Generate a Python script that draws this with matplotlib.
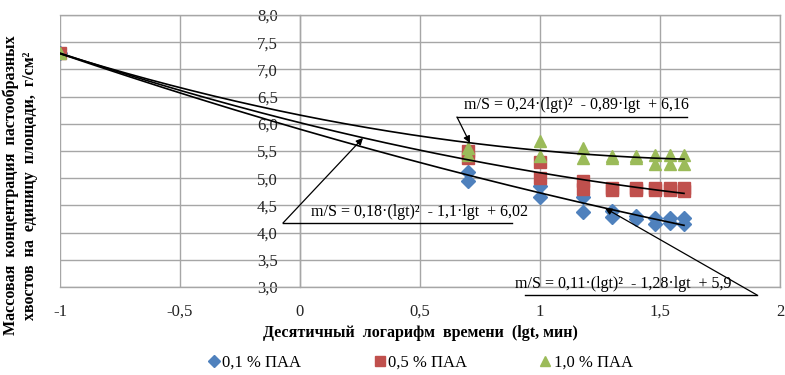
import matplotlib
matplotlib.use("Agg")
import matplotlib.pyplot as plt
import numpy as np

plt.rcParams['font.family'] = ['Liberation Serif', 'DejaVu Serif']

# ---- data ----
lgt = [-1, 0.7, 0.7, 1, 1, 1.18, 1.18, 1.3, 1.3, 1.4, 1.4, 1.48, 1.48, 1.54, 1.54, 1.6, 1.6]
paa_01 = [7.3, 5.12, 4.95, 4.85, 4.65, 4.65, 4.38, 4.4, 4.28, 4.3, 4.25, 4.27, 4.16, 4.26, 4.17, 4.27, 4.15]
paa_05 = [7.3, 5.5, 5.38, 5.3, 5.0, 4.95, 4.8, 4.82, 4.78, 4.82, 4.78, 4.82, 4.78, 4.82, 4.78, 4.82, 4.77]
paa_10 = [7.3, 5.55, 5.42, 5.68, 5.4, 5.55, 5.38, 5.4, 5.37, 5.4, 5.37, 5.42, 5.27, 5.42, 5.27, 5.42, 5.27]

# trendline coefficients printed on the chart (a*x^2 + b*x + c)
coef_01 = [0.11, -1.28, 5.9]
coef_05 = [0.18, -1.1, 6.02]
coef_10 = [0.24, -0.89, 6.16]

series_labels = ['0,1 % ПАА', '0,5 % ПАА', '1,0 % ПАА']
eq_labels = ['m/S = 0,11·(lgt)²  - 1,28·lgt  + 5,9',
             'm/S = 0,18·(lgt)²  - 1,1·lgt  + 6,02',
             'm/S = 0,24·(lgt)²  - 0,89·lgt  + 6,16']
x_ticks = [-1, -0.5, 0, 0.5, 1, 1.5, 2]
x_tick_labels = ['-1', '-0,5', '0', '0,5', '1', '1,5', '2']
y_ticks = [3.0, 3.5, 4.0, 4.5, 5.0, 5.5, 6.0, 6.5, 7.0, 7.5, 8.0]
y_tick_labels = ['3,0', '3,5', '4,0', '4,5', '5,0', '5,5', '6,0', '6,5', '7,0', '7,5', '8,0']

blue = '#4f81bd'
red = '#c0504d'
green = '#9bbb59'
grid_c = '#a6a6a6'

fig = plt.figure(figsize=(7.85, 3.75), dpi=100)
ax = fig.add_axes([60/785, 1-287/375, 720/785, 272/375])
ax.set_xlim(-1, 2)
ax.set_ylim(3, 8)

ax.set_xticks(x_ticks)
ax.set_xticklabels(x_tick_labels)
ax.set_yticks(y_ticks)
ax.set_yticklabels(y_tick_labels)
ax.grid(True, color=grid_c, linewidth=1.0)
ax.set_axisbelow(True)
for s in ['top', 'right', 'bottom']:
    ax.spines[s].set_color(grid_c)
    ax.spines[s].set_linewidth(1.0)
ax.spines['left'].set_position(('data', 0))
ax.spines['left'].set_color(grid_c)
ax.spines['left'].set_linewidth(1.0)
ax.tick_params(axis='both', length=0, labelsize=12, colors='#222222')
ax.tick_params(axis='y', pad=16)
ax.tick_params(axis='x', pad=12)

ax.plot(lgt, paa_01, linestyle='none', marker='D', markersize=7, color=blue, label=series_labels[0], zorder=3)
ax.plot(lgt, paa_05, linestyle='none', marker='s', markersize=8, color=red, label=series_labels[1], zorder=3)
ax.plot(lgt, paa_10, linestyle='none', marker='^', markersize=9, color=green, label=series_labels[2], zorder=3)

xx = np.linspace(-1, 1.6, 200)
for c in (coef_01, coef_05, coef_10):
    ax.plot(xx, np.polyval(c, xx), color='black', linewidth=1.2, zorder=4)

# annotations: underline + arrow + equation text
def annot(text, tx, ty, ux0, ux1, uy, start, end):
    ax.text(tx, ty, text, fontsize=11.5, va='center', ha='left', zorder=5, clip_on=False)
    ax.plot([ux0, ux1], [uy, uy], color='black', linewidth=1.0, clip_on=False, zorder=5)
    ax.annotate('', xy=end, xytext=start,
                arrowprops=dict(arrowstyle='-|>', color='black', lw=0.9,
                                mutation_scale=10, shrinkA=0, shrinkB=0),
                annotation_clip=False, zorder=5)

annot(eq_labels[2], 0.685, 6.35, 0.654, 1.6125, 6.125, (0.654, 6.125), (0.708, 5.647))
annot(eq_labels[1], 0.045, 4.38, -0.071, 0.883, 4.176, (-0.071, 4.176), (0.2625, 5.74))
annot(eq_labels[0], 0.895, 3.06, 0.9375, 1.904, 2.853, (1.904, 2.853), (1.271, 4.45))

ax.set_xlabel('Десятичный  логарифм  времени  (lgt, мин)', fontsize=11.5, fontweight='bold', labelpad=4)

fig.text(0.026, 0.505, 'Массовая  концентрация  пастообразных\nхвостов  на  единицу  площади,  г/см²',
         rotation=90, ha='center', va='center', fontsize=11.5, fontweight='bold', multialignment='center',
         linespacing=1.2)

leg = fig.legend(loc='center', bbox_to_anchor=(0.534, 0.032), ncol=3, frameon=False,
                 fontsize=12, handletextpad=0.0, columnspacing=4.2, handlelength=1.0,
                 markerscale=0.85)

fig.savefig('out.png', dpi=100)
